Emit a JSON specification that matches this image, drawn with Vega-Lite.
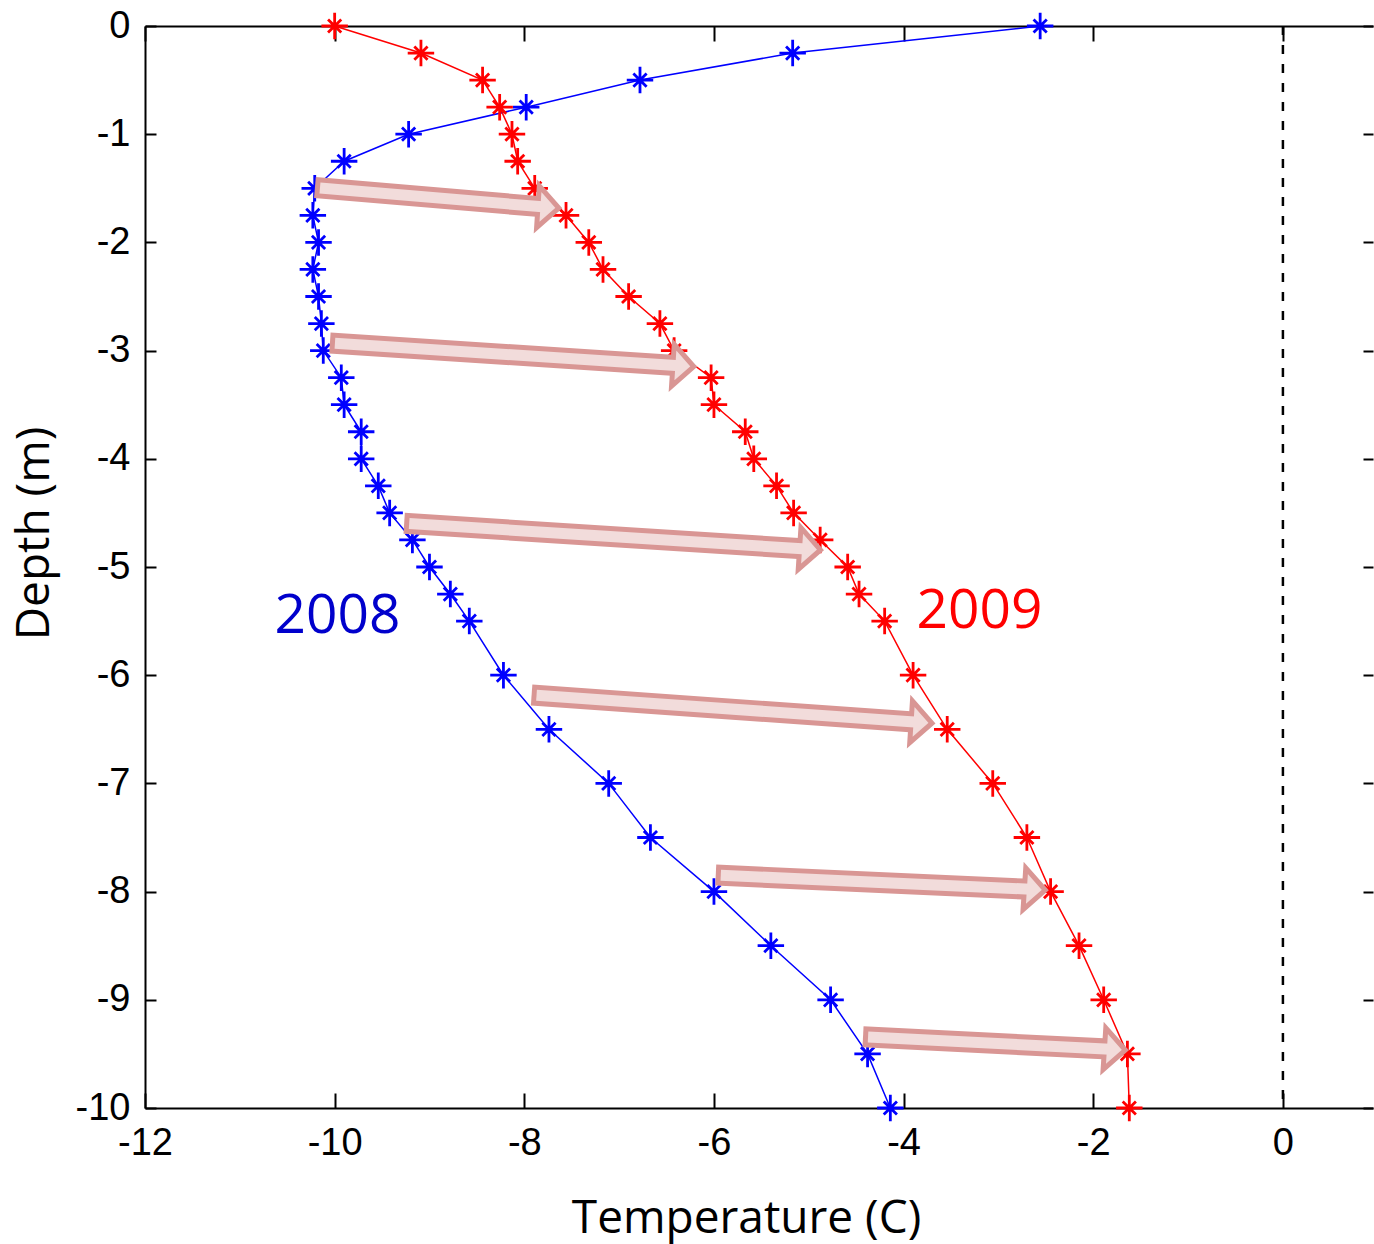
{
  "$schema": "https://vega.github.io/schema/vega-lite/v6.json",
  "width": 1228,
  "height": 1082,
  "autosize": {"type": "none"},
  "padding": {"left": 145, "top": 26, "right": 1, "bottom": 136},
  "background": "white",
  "config": {
    "view": {"stroke": null},
    "axis": {
      "domainColor": "black",
      "domainWidth": 2,
      "tickColor": "black",
      "tickWidth": 2,
      "grid": false,
      "labelFont": "Liberation Sans",
      "labelFontSize": 38,
      "labelColor": "black",
      "titleFont": "Open Sans",
      "titleFontSize": 46,
      "titleFontWeight": "normal",
      "titleColor": "black"
    }
  },
  "resolve": {"axis": {"x": "independent", "y": "independent"}, "scale": {"color": "independent"}},
  "datasets": {
    "profiles": [
      {"year": "2008", "depth": 0, "temp": -2.56},
      {"year": "2008", "depth": -0.25, "temp": -5.17},
      {"year": "2008", "depth": -0.5, "temp": -6.78},
      {"year": "2008", "depth": -0.75, "temp": -7.98},
      {"year": "2008", "depth": -1, "temp": -9.22},
      {"year": "2008", "depth": -1.25, "temp": -9.9},
      {"year": "2008", "depth": -1.5, "temp": -10.21},
      {"year": "2008", "depth": -1.75, "temp": -10.23},
      {"year": "2008", "depth": -2, "temp": -10.17},
      {"year": "2008", "depth": -2.25, "temp": -10.23},
      {"year": "2008", "depth": -2.5, "temp": -10.17},
      {"year": "2008", "depth": -2.75, "temp": -10.14},
      {"year": "2008", "depth": -3, "temp": -10.12},
      {"year": "2008", "depth": -3.25, "temp": -9.93},
      {"year": "2008", "depth": -3.5, "temp": -9.9},
      {"year": "2008", "depth": -3.75, "temp": -9.72},
      {"year": "2008", "depth": -4, "temp": -9.72},
      {"year": "2008", "depth": -4.25, "temp": -9.54},
      {"year": "2008", "depth": -4.5, "temp": -9.42},
      {"year": "2008", "depth": -4.75, "temp": -9.18},
      {"year": "2008", "depth": -5, "temp": -9.0},
      {"year": "2008", "depth": -5.25, "temp": -8.78},
      {"year": "2008", "depth": -5.5, "temp": -8.58},
      {"year": "2008", "depth": -6, "temp": -8.22},
      {"year": "2008", "depth": -6.5, "temp": -7.74},
      {"year": "2008", "depth": -7, "temp": -7.11},
      {"year": "2008", "depth": -7.5, "temp": -6.67},
      {"year": "2008", "depth": -8, "temp": -6.0},
      {"year": "2008", "depth": -8.5, "temp": -5.4},
      {"year": "2008", "depth": -9, "temp": -4.77},
      {"year": "2008", "depth": -9.5, "temp": -4.38},
      {"year": "2008", "depth": -10, "temp": -4.14},
      {"year": "2009", "depth": 0, "temp": -10.0},
      {"year": "2009", "depth": -0.25, "temp": -9.09},
      {"year": "2009", "depth": -0.5, "temp": -8.44},
      {"year": "2009", "depth": -0.75, "temp": -8.26},
      {"year": "2009", "depth": -1, "temp": -8.13},
      {"year": "2009", "depth": -1.25, "temp": -8.07},
      {"year": "2009", "depth": -1.5, "temp": -7.89},
      {"year": "2009", "depth": -1.75, "temp": -7.56},
      {"year": "2009", "depth": -2, "temp": -7.32},
      {"year": "2009", "depth": -2.25, "temp": -7.17},
      {"year": "2009", "depth": -2.5, "temp": -6.9},
      {"year": "2009", "depth": -2.75, "temp": -6.57},
      {"year": "2009", "depth": -3, "temp": -6.42},
      {"year": "2009", "depth": -3.25, "temp": -6.03},
      {"year": "2009", "depth": -3.5, "temp": -6.0},
      {"year": "2009", "depth": -3.75, "temp": -5.67},
      {"year": "2009", "depth": -4, "temp": -5.58},
      {"year": "2009", "depth": -4.25, "temp": -5.34},
      {"year": "2009", "depth": -4.5, "temp": -5.16},
      {"year": "2009", "depth": -4.75, "temp": -4.88},
      {"year": "2009", "depth": -5, "temp": -4.59},
      {"year": "2009", "depth": -5.25, "temp": -4.47},
      {"year": "2009", "depth": -5.5, "temp": -4.2},
      {"year": "2009", "depth": -6, "temp": -3.9},
      {"year": "2009", "depth": -6.5, "temp": -3.54},
      {"year": "2009", "depth": -7, "temp": -3.06},
      {"year": "2009", "depth": -7.5, "temp": -2.7},
      {"year": "2009", "depth": -8, "temp": -2.45},
      {"year": "2009", "depth": -8.5, "temp": -2.15},
      {"year": "2009", "depth": -9, "temp": -1.89},
      {"year": "2009", "depth": -9.5, "temp": -1.64},
      {"year": "2009", "depth": -10, "temp": -1.62}
    ],
    "arrows": [
      {"x0": -10.208, "y0": -1.493, "x1": -10.155, "y1": -1.497, "xb": -7.867, "yb": -1.667, "xh": -7.746, "yh": -1.676},
      {"x0": -10.05, "y0": -2.93, "x1": -9.997, "y1": -2.933, "xb": -6.444, "yb": -3.135, "xh": -6.323, "yh": -3.142},
      {"x0": -9.267, "y0": -4.596, "x1": -9.214, "y1": -4.599, "xb": -5.108, "yb": -4.829, "xh": -4.987, "yh": -4.836},
      {"x0": -7.923, "y0": -6.183, "x1": -7.871, "y1": -6.186, "xb": -3.932, "yb": -6.43, "xh": -3.811, "yh": -6.437},
      {"x0": -5.981, "y0": -7.847, "x1": -5.928, "y1": -7.849, "xb": -2.737, "yb": -7.976, "xh": -2.616, "yh": -7.98},
      {"x0": -4.428, "y0": -9.341, "x1": -4.375, "y1": -9.343, "xb": -1.893, "yb": -9.453, "xh": -1.772, "yh": -9.459}
    ],
    "labels": [
      {"year": "2008", "x": -9.97, "y": -5.61},
      {"year": "2009", "x": -3.2, "y": -5.565}
    ],
    "zero": [{"t": 0}]
  },
  "layer": [
    {
      "data": {"name": "zero"},
      "mark": {"type": "rule", "color": "black", "strokeWidth": 2.5, "strokeDash": [9, 10]},
      "encoding": {
        "x": {"field": "t", "type": "quantitative", "scale": {"domain": [-12, 0.95], "nice": false, "zero": false}, "axis": null}
      }
    },
    {
      "data": {"name": "profiles"},
      "mark": {"type": "line", "strokeWidth": 1.5},
      "encoding": {
        "x": {"field": "temp", "type": "quantitative", "scale": {"domain": [-12, 0.95], "nice": false, "zero": false},
          "axis": {"orient": "bottom", "values": [-12, -10, -8, -6, -4, -2, 0], "tickSize": -15, "labelPadding": 31, "labelExpr": "'' + datum.value", "labelFlush": false, "labelOverlap": false,
            "title": "Temperature (C)", "titleX": 601, "titleY": 124, "titleBaseline": "alphabetic", "titleAlign": "center"}},
        "y": {"field": "depth", "type": "quantitative", "scale": {"domain": [-10, 0], "nice": false, "zero": false},
          "axis": {"orient": "left", "values": [-10, -9, -8, -7, -6, -5, -4, -3, -2, -1, 0], "tickSize": -11, "labelPadding": 26, "labelExpr": "'' + datum.value", "labelFlush": false, "labelOverlap": false, "labelBaseline": "middle",
            "title": "Depth (m)", "titleX": -97, "titleY": 507, "titleAngle": 270, "titleBaseline": "alphabetic", "titleAlign": "center"}},
        "color": {"field": "year", "type": "nominal", "scale": {"domain": ["2008", "2009"], "range": ["#0000FF", "#FF0000"]}, "legend": null},
        "order": {"field": "depth", "sort": "descending"}
      }
    },
    {
      "data": {"name": "profiles"},
      "mark": {"type": "point", "shape": "M -1 0 L 1 0 M 0 -1 L 0 1 M -0.5 -0.5 L 0.5 0.5 M -0.5 0.5 L 0.5 -0.5", "size": 700, "filled": false, "strokeWidth": 2.8, "opacity": 1},
      "encoding": {
        "x": {"field": "temp", "type": "quantitative", "scale": {"domain": [-12, 0.95], "nice": false, "zero": false},
          "axis": {"orient": "top", "values": [-12, -10, -8, -6, -4, -2, 0], "tickSize": -15, "labels": false, "title": null}},
        "y": {"field": "depth", "type": "quantitative", "scale": {"domain": [-10, 0], "nice": false, "zero": false},
          "axis": {"orient": "right", "values": [-10, -9, -8, -7, -6, -5, -4, -3, -2, -1, 0], "tickSize": -10, "labels": false, "domain": false, "title": null}},
        "color": {"field": "year", "type": "nominal", "scale": {"domain": ["2008", "2009"], "range": ["#0000FF", "#FF0000"]}, "legend": null}
      }
    },
    {
      "data": {"name": "arrows"},
      "mark": {"type": "rule", "color": "#D99694", "strokeWidth": 21, "strokeCap": "butt"},
      "encoding": {
        "x": {"field": "x0", "type": "quantitative", "scale": {"domain": [-12, 0.95], "nice": false, "zero": false}, "axis": null},
        "y": {"field": "y0", "type": "quantitative", "scale": {"domain": [-10, 0], "nice": false, "zero": false}, "axis": null},
        "x2": {"field": "xb"},
        "y2": {"field": "yb"}
      }
    },
    {
      "data": {"name": "arrows"},
      "mark": {"type": "point", "shape": "M -0.5 -1 L 0.5 0 L -0.5 1 Z", "size": 1750, "filled": true, "fill": "#F2DCDB", "stroke": "#D99694", "strokeWidth": 5, "strokeJoin": "miter", "angle": 3.7, "opacity": 1},
      "encoding": {
        "x": {"field": "xh", "type": "quantitative", "scale": {"domain": [-12, 0.95], "nice": false, "zero": false}, "axis": null},
        "y": {"field": "yh", "type": "quantitative", "scale": {"domain": [-10, 0], "nice": false, "zero": false}, "axis": null}
      }
    },
    {
      "data": {"name": "arrows"},
      "mark": {"type": "rule", "color": "#F2DCDB", "strokeWidth": 11, "strokeCap": "butt"},
      "encoding": {
        "x": {"field": "x1", "type": "quantitative", "scale": {"domain": [-12, 0.95], "nice": false, "zero": false}, "axis": null},
        "y": {"field": "y1", "type": "quantitative", "scale": {"domain": [-10, 0], "nice": false, "zero": false}, "axis": null},
        "x2": {"field": "xh"},
        "y2": {"field": "yh"}
      }
    },
    {
      "data": {"name": "labels"},
      "mark": {"type": "text", "font": "Open Sans", "fontSize": 55, "align": "center", "baseline": "alphabetic"},
      "encoding": {
        "x": {"field": "x", "type": "quantitative", "scale": {"domain": [-12, 0.95], "nice": false, "zero": false}, "axis": null},
        "y": {"field": "y", "type": "quantitative", "scale": {"domain": [-10, 0], "nice": false, "zero": false}, "axis": null},
        "text": {"field": "year", "type": "nominal"},
        "color": {"field": "year", "type": "nominal", "scale": {"domain": ["2008", "2009"], "range": ["#0000CC", "#FF0000"]}, "legend": null}
      }
    }
  ]
}
